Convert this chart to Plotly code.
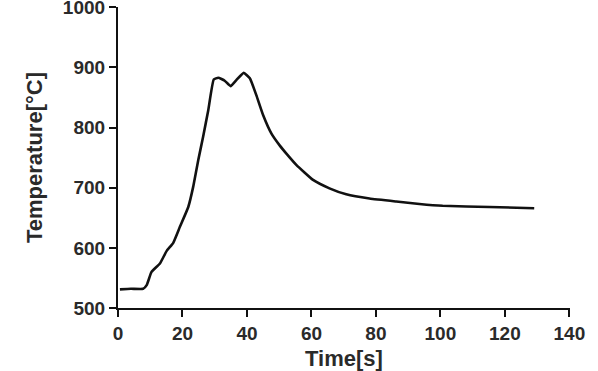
import plotly.graph_objects as go

time_s = [0.6, 4, 7.8, 8.9, 10.4, 13.0, 15.1, 17.1, 19.2, 21.8, 23.3, 24.9, 26.4, 28.0, 29.7,
          31.1, 33.1, 34.9, 36.7, 39.0, 40.9, 42.9, 45.0, 47.6, 50.2, 52.5, 55.3, 60.5, 65.6,
          70.8, 78.0, 86.3, 93.5, 100.7, 115.2, 129.1]
temp_c = [531, 532, 532, 538, 560, 574, 595, 608, 635, 668, 701, 746, 785, 829, 880,
          883, 878, 869, 879, 891, 882, 854, 821, 790, 770, 755, 738, 713, 699,
          689, 682, 677, 673, 670, 668, 666]

x_ticks = [0, 20, 40, 60, 80, 100, 120, 140]
y_ticks = [500, 600, 700, 800, 900, 1000]

font_family = "Liberation Sans, Arial, sans-serif"

fig = go.Figure()
fig.add_trace(go.Scatter(x=time_s, y=temp_c, mode="lines",
                         line=dict(color="#111111", width=2.6, shape="spline", smoothing=0.4),
                         showlegend=False))

axis_common = dict(showgrid=False, zeroline=False, showline=True, linecolor="#111111",
                   linewidth=2.2, ticks="outside", ticklen=7, tickwidth=2.2, tickcolor="#111111",
                   ticklabeloverflow="allow", automargin=False,
                   tickfont=dict(family=font_family, size=19, color="#2a2a2a", weight="bold"))

fig.update_xaxes(range=[0, 140.2], tickvals=x_ticks,
                 title=dict(text="<b>Time[s]</b>", font=dict(family=font_family, size=22, color="#2a2a2a"),
                            standoff=17),
                 **axis_common)
fig.update_yaxes(range=[500, 1000.6], tickvals=y_ticks,
                 title=dict(text="<b>Temperature[°C]</b>", font=dict(family=font_family, size=22, color="#2a2a2a"),
                            standoff=14),
                 **axis_common)

fig.update_layout(width=598, height=371, margin=dict(l=118, r=28, t=7, b=63),
                  plot_bgcolor="white", paper_bgcolor="white")

fig.write_html("out.html")
